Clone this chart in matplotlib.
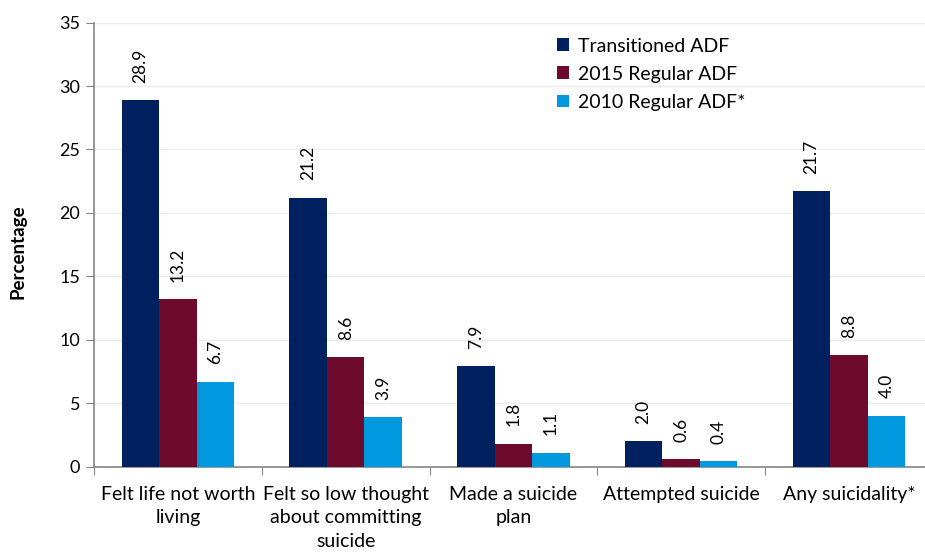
import matplotlib
matplotlib.use("Agg")
import matplotlib.pyplot as plt
import numpy as np

categories = ["Felt life not worth\nliving", "Felt so low thought\nabout committing\nsuicide",
              "Made a suicide\nplan", "Attempted suicide", "Any suicidality*"]
series_names = ["Transitioned ADF", "2015 Regular ADF", "2010 Regular ADF*"]
transitioned = [28.9, 21.2, 7.9, 2.0, 21.7]
regular_2015 = [13.2, 8.6, 1.8, 0.6, 8.8]
regular_2010 = [6.7, 3.9, 1.1, 0.4, 4.0]
colors = ["#002060", "#6E0A2B", "#0099E0"]

plt.rcParams['font.family'] = ['Lato', 'DejaVu Sans']

fig = plt.figure(figsize=(9.25, 5.53), dpi=100)
ax = fig.add_axes([94/925, 86.5/553, 838.75/925, 443.8/553])

x = np.arange(len(categories))
w = 0.2233
for i, (vals, name, c) in enumerate(zip([transitioned, regular_2015, regular_2010], series_names, colors)):
    pos = x + (i - 1) * w
    ax.bar(pos, vals, width=w, color=c, label=name, zorder=3)
    for xp, v in zip(pos, vals):
        ax.annotate(f"{v:.1f}", (xp, v), xytext=(0, 12.5), textcoords="offset points",
                    rotation=90, ha="center", va="bottom", fontsize=12.5, color="black")

ax.set_xlim(-0.5, len(categories) - 0.5)
ax.set_ylim(0, 35)
ax.set_yticks(np.arange(0, 36, 5))
ax.tick_params(axis='y', labelsize=13, length=6, color="#868686", pad=4)
ax.set_xticks(np.arange(-0.5, len(categories), 1.0))
ax.set_xticklabels([])
ax.set_xticks(x, minor=True)
ax.set_xticklabels(categories, minor=True, fontsize=14, linespacing=1.45)
ax.tick_params(axis='x', which='major', length=6, color="#868686")
ax.tick_params(axis='x', which='minor', length=0, pad=14)
ax.grid(axis='y', color="#EBEBEB", linewidth=1, zorder=0)
for s in ["top", "right"]:
    ax.spines[s].set_visible(False)
for s in ["left", "bottom"]:
    ax.spines[s].set_color("#868686")
    ax.spines[s].set_linewidth(1.2)
ax.set_ylabel("Percentage", fontsize=13.5, fontweight="bold")
ax.yaxis.set_label_coords(-0.081, 0.483)

leg = ax.legend(loc="upper left", bbox_to_anchor=(0.5306, 1.006), frameon=False, fontsize=14,
                handlelength=0.62, handleheight=0.62, handletextpad=0.5, labelspacing=0.57)

fig.savefig("out.png", dpi=100)
